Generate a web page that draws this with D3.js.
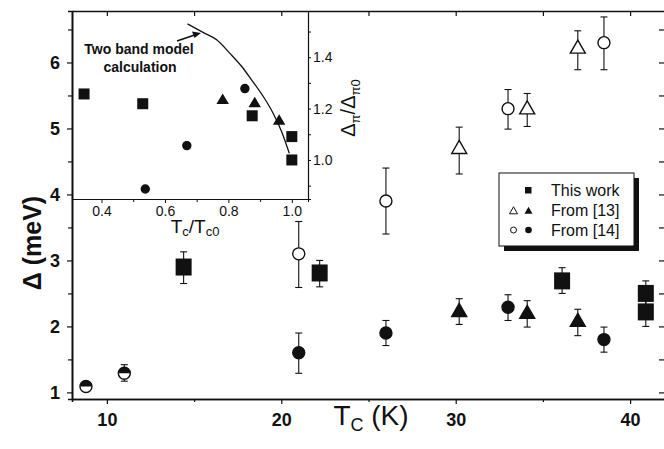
<!DOCTYPE html>
<html><head><meta charset="utf-8">
<script src="https://cdn.jsdelivr.net/npm/d3@7"></script>
<style>body{margin:0;background:#fff}svg{display:block}text{font-family:Arial,"Liberation Sans",sans-serif;fill:#111}</style>
</head><body><svg id="c" width="664" height="449"></svg>
<script>
// ---------------- main plot data ----------------
// This work (filled squares)
const twTc   = [14.4, 22.2, 36.1, 40.9, 40.9];
const twGap  = [2.9, 2.81, 2.69, 2.5, 2.22];
const twLo   = [2.65, 2.6, 2.5, 2.3, 2.0];
const twHi   = [3.13, 3.0, 2.89, 2.69, 2.42];
// From [13] (triangles): open = sigma gap, filled = pi gap
const r13Tc      = [30.2, 34.1, 37.0];
const r13Open    = [4.7, 5.3, 6.22];
const r13OpenLo  = [4.31, 5.03, 5.89];
const r13OpenHi  = [5.02, 5.53, 6.48];
const r13Fill    = [2.23, 2.2, 2.08];
const r13FillLo  = [2.03, 1.99, 1.86];
const r13FillHi  = [2.42, 2.39, 2.26];
// From [14] (circles)
const r14Tc      = [21.0, 26.0, 33.0, 38.5];
const r14Open    = [3.1, 3.9, 5.3, 6.3];
const r14OpenLo  = [2.59, 3.40, 4.99, 5.89];
const r14OpenHi  = [3.59, 4.40, 5.59, 6.69];
const r14Fill    = [1.6, 1.9, 2.29, 1.8];
const r14FillLo  = [1.29, 1.71, 2.09, 1.61];
const r14FillHi  = [1.90, 2.09, 2.48, 1.99];
// Half-filled circles (single gap)
const halfTc  = [8.8, 11.0];
const halfGap = [1.09, 1.29];
const halfLo  = [1.05, 1.17];
const halfHi  = [1.13, 1.42];
// ticks
const xMajor = [10, 20, 30, 40];
const xMinor = [15, 25, 35];
const yMajor = [1, 2, 3, 4, 5, 6];
const yMinor = [1.5, 2.5, 3.5, 4.5, 5.5, 6.5];

// ---------------- inset data ----------------
const inTwX = [0.345, 0.53, 0.875, 1.0, 1.0];
const inTwY = [1.257, 1.219, 1.172, 1.091, 1.0];
const inTriX = [0.782, 0.883, 0.96];
const inTriY = [1.234, 1.221, 1.153];
const inCirX = [0.538, 0.669, 0.852];
const inCirY = [0.887, 1.056, 1.278];
const curveX = [0.671, 0.72, 0.763, 0.805, 0.842, 0.873, 0.91, 0.941, 0.968, 0.992];
const curveY = [1.530, 1.497, 1.468, 1.415, 1.364, 1.312, 1.247, 1.182, 1.110, 1.026];
const ixMajor = [0.4, 0.6, 0.8, 1.0];
const ixMinor = [0.5, 0.7, 0.9];
const iyMajor = [1.0, 1.2, 1.4];
const iyMinor = [0.9, 1.1, 1.3, 1.5];

const svg = d3.select('#c');
const x = d3.scaleLinear().domain([8, 42]).range([72, 665]);
const y = d3.scaleLinear().domain([0.9, 6.78]).range([399, 11]);
const ink = '#111';

// ---- main axes ----
const gB = svg.append('g').attr('transform', 'translate(0,399)');
gB.call(d3.axisBottom(x).tickValues(xMajor).tickSize(5).tickSizeOuter(0).tickPadding(9).tickFormat(d3.format('d')));
gB.append('g').call(d3.axisBottom(x).tickValues(xMinor).tickSize(3).tickFormat(''));
const gL = svg.append('g').attr('transform', 'translate(72,0)');
gL.call(d3.axisLeft(y).tickValues(yMajor).tickSize(5).tickSizeOuter(0).tickPadding(7).tickFormat(d3.format('d')));
gL.append('g').call(d3.axisLeft(y).tickValues(yMinor).tickSize(4).tickFormat(''));
const gT = svg.append('g').attr('transform', 'translate(0,11)');
gT.call(d3.axisTop(x).tickValues(xMajor.concat(xMinor)).tickSize(-5).tickSizeOuter(0).tickFormat(''));
const gR = svg.append('g').attr('transform', 'translate(665,0)');
gR.call(d3.axisRight(y).tickValues(yMajor.concat(yMinor)).tickSize(-6).tickSizeOuter(0).tickFormat(''));
[gB, gL, gT, gR].forEach(g => {
  g.selectAll('.domain').attr('stroke', ink).attr('stroke-width', 1.6);
  g.selectAll('line').attr('stroke', ink).attr('stroke-width', 1.2);
  g.selectAll('text').attr('font-size', 18).attr('font-weight', 'bold').attr('fill', ink)
    .attr('font-family', 'Arial, Liberation Sans, sans-serif');
});
gL.selectAll('text').attr('dy', '0.36em');

// axis titles
const xt = svg.append('text').attr('x', 371).attr('y', 425).attr('text-anchor', 'middle')
  .attr('font-size', 28);
xt.append('tspan').text('T');
xt.append('tspan').attr('font-size', 18).attr('dy', 6).text('C');
xt.append('tspan').attr('dy', -6).text(' (K)');
svg.append('text').attr('transform', 'translate(41,243) rotate(-90)').attr('text-anchor', 'middle')
  .attr('font-size', 25).attr('font-weight', 'bold').text('\u0394 (meV)');

// ---- marker helpers ----
function errBar(g, xs, lo, hi, sx, sy, cap) {
  xs.forEach((v, i) => {
    const px = sx(v);
    g.append('line').attr('x1', px).attr('x2', px).attr('y1', sy(lo[i])).attr('y2', sy(hi[i]))
      .attr('stroke', ink).attr('stroke-width', 1.1);
    [lo[i], hi[i]].forEach(e => g.append('line').attr('x1', px - cap).attr('x2', px + cap)
      .attr('y1', sy(e)).attr('y2', sy(e)).attr('stroke', ink).attr('stroke-width', 1.1));
  });
}
function tri(cx, cy, w, h) {
  return `M${cx},${cy - h * 0.6}L${cx + w / 2},${cy + h * 0.4}L${cx - w / 2},${cy + h * 0.4}Z`;
}
function squares(g, xs, ys, sx, sy, w, h) {
  g.selectAll(null).data(xs).enter().append('rect')
    .attr('x', (d) => sx(d) - w / 2).attr('y', (d, i) => sy(ys[i]) - h / 2)
    .attr('width', w).attr('height', h).attr('fill', ink);
}
function circles(g, xs, ys, sx, sy, r, filled) {
  g.selectAll(null).data(xs).enter().append('circle')
    .attr('cx', d => sx(d)).attr('cy', (d, i) => sy(ys[i])).attr('r', r)
    .attr('fill', filled ? ink : '#fff').attr('stroke', ink).attr('stroke-width', 1.4);
}
function triangles(g, xs, ys, sx, sy, w, h, filled) {
  g.selectAll(null).data(xs).enter().append('path')
    .attr('d', (d, i) => tri(sx(d), sy(ys[i]), w, h))
    .attr('fill', filled ? ink : '#fff').attr('stroke', ink).attr('stroke-width', 1.4)
    .attr('stroke-linejoin', 'miter');
}

// ---- main data ----
const gD = svg.append('g');
errBar(gD, twTc, twLo, twHi, x, y, 3.5);
errBar(gD, r13Tc, r13OpenLo, r13OpenHi, x, y, 3.5);
errBar(gD, r13Tc, r13FillLo, r13FillHi, x, y, 3.5);
errBar(gD, r14Tc, r14OpenLo, r14OpenHi, x, y, 3.5);
errBar(gD, r14Tc, r14FillLo, r14FillHi, x, y, 3.5);
errBar(gD, halfTc, halfLo, halfHi, x, y, 3.5);
squares(gD, twTc, twGap, x, y, 16, 17);
triangles(gD, r13Tc, r13Open, x, y, 15, 13, false);
triangles(gD, r13Tc, r13Fill, x, y, 15, 13, true);
circles(gD, r14Tc, r14Open, x, y, 6, false);
circles(gD, r14Tc, r14Fill, x, y, 6, true);
halfTc.forEach((v, i) => {
  const cx = x(v), cy = y(halfGap[i]), r = 6;
  gD.append('circle').attr('cx', cx).attr('cy', cy).attr('r', r).attr('fill', '#fff')
    .attr('stroke', ink).attr('stroke-width', 1.4);
  gD.append('path').attr('d', `M${cx - r},${cy}A${r},${r} 0 0 1 ${cx + r},${cy}Z`).attr('fill', ink);
});

// ---- legend ----
const lg = svg.append('g');
lg.append('rect').attr('x', 504).attr('y', 178).attr('width', 135).attr('height', 73).attr('fill', ink);
lg.append('rect').attr('x', 499).attr('y', 173).attr('width', 135).attr('height', 73)
  .attr('fill', '#fff').attr('stroke', ink).attr('stroke-width', 1);
const rows = [190, 210.5, 230];
lg.append('rect').attr('x', 525).attr('y', rows[0] - 3).attr('width', 6.5).attr('height', 6.5).attr('fill', ink);
lg.append('path').attr('d', tri(513.5, rows[1] + 0.5, 8, 7)).attr('fill', '#fff').attr('stroke', ink).attr('stroke-width', 1);
lg.append('path').attr('d', tri(528.5, rows[1] + 0.5, 8, 7)).attr('fill', ink);
lg.append('circle').attr('cx', 513.5).attr('cy', rows[2]).attr('r', 3).attr('fill', '#fff').attr('stroke', ink).attr('stroke-width', 1);
lg.append('circle').attr('cx', 528.5).attr('cy', rows[2]).attr('r', 3.3).attr('fill', ink);
['This work', 'From [13]', 'From [14]'].forEach((t, i) =>
  lg.append('text').attr('x', 551).attr('y', rows[i]).attr('dy', '0.36em').attr('font-size', 16).text(t));

// ---------------- inset ----------------
const ix = d3.scaleLinear().domain([0.307, 1.051]).range([72, 308]);
const iy = d3.scaleLinear().domain([0.848, 1.580]).range([199, 11]);
const gi = svg.append('g');
const iB = gi.append('g').attr('transform', 'translate(0,199)');
iB.call(d3.axisBottom(ix).tickValues(ixMajor).tickSize(4).tickSizeOuter(0).tickPadding(3).tickFormat(d3.format('.1f')));
iB.append('g').call(d3.axisBottom(ix).tickValues(ixMinor).tickSize(3).tickFormat(''));
const iR = gi.append('g').attr('transform', 'translate(308,0)');
iR.call(d3.axisRight(iy).tickValues(iyMajor).tickSize(3).tickSizeOuter(0).tickPadding(2).tickFormat(d3.format('.1f')));
iR.append('g').call(d3.axisRight(iy).tickValues(iyMinor).tickSize(3).tickFormat(''));
[iB, iR].forEach(g => {
  g.selectAll('.domain').attr('stroke', ink).attr('stroke-width', 1.1);
  g.selectAll('line').attr('stroke', ink).attr('stroke-width', 1);
  g.selectAll('text').attr('font-size', 14).attr('fill', '#222')
    .attr('font-family', 'Arial, Liberation Sans, sans-serif');
});
// inset axis titles
const ixt = gi.append('text').attr('x', 195).attr('y', 233).attr('text-anchor', 'middle').attr('font-size', 19);
ixt.append('tspan').text('T');
ixt.append('tspan').attr('font-size', 13).attr('dy', 3).text('c');
ixt.append('tspan').attr('dy', -3).text('/T');
ixt.append('tspan').attr('font-size', 13).attr('dy', 3).text('c0');
const iyt = gi.append('text').attr('transform', 'translate(355,108) rotate(-90)').attr('text-anchor', 'middle').attr('font-size', 20);
iyt.append('tspan').text('\u0394');
iyt.append('tspan').attr('font-size', 13).attr('dy', 5).text('\u03c0');
iyt.append('tspan').attr('dy', -5).text('/\u0394');
iyt.append('tspan').attr('font-size', 13).attr('dy', 5).text('\u03c00');

// curve
const pts = curveX.map((v, i) => [ix(v), iy(curveY[i])]);
gi.append('path').attr('d', d3.line().curve(d3.curveMonotoneX)(pts)).attr('fill', 'none')
  .attr('stroke', ink).attr('stroke-width', 1.3);
// annotation
gi.append('text').attr('x', 139).attr('y', 54).attr('text-anchor', 'middle').attr('font-size', 14)
  .attr('font-weight', 'bold').text('Two band model');
gi.append('text').attr('x', 140).attr('y', 72).attr('text-anchor', 'middle').attr('font-size', 14)
  .attr('font-weight', 'bold').text('calculation');
gi.append('line').attr('x1', 177).attr('y1', 41).attr('x2', 196).attr('y2', 34.5).attr('stroke', ink).attr('stroke-width', 1.6);
gi.append('path').attr('d', 'M201,33 L192,31.5 L194.5,38 Z').attr('fill', ink);

// inset markers
squares(gi, inTwX, inTwY, ix, iy, 11, 11);
triangles(gi, inTriX, inTriY, ix, iy, 10, 8.5, true);
circles(gi, inCirX, inCirY, ix, iy, 4, true);
</script></body></html>
